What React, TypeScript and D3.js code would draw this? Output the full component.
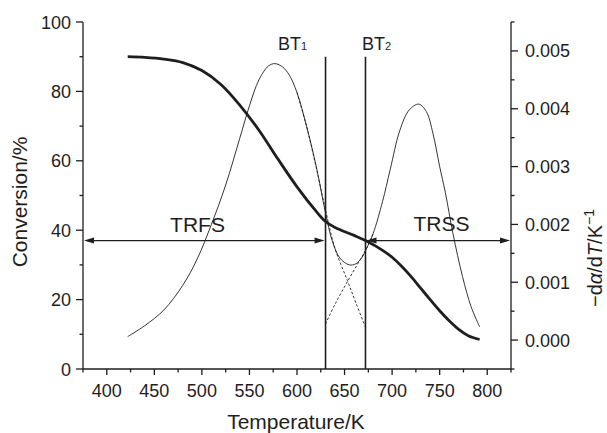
import React from "react";
import * as d3 from "d3";

// ---- data ----
const convTemps = [422, 440, 460, 480, 500, 520, 540, 560, 580, 600, 620, 630, 640, 660, 672, 690, 700, 710, 720, 730, 740, 750, 760, 770, 780, 792];
const convValues = [90, 89.8, 89.3, 88.3, 86, 82, 76, 68.8, 60.5, 52.5, 45.5, 42.5, 40.8, 38.5, 37, 34.2, 32.2, 29.6, 26.6, 23.3, 20.0, 16.8, 13.9, 11.4, 9.6, 8.5];

const dtgTemps = [422, 440, 460, 480, 495, 510, 525, 540, 550, 560, 570, 577, 585, 592, 600, 610, 620, 630, 637, 645, 655, 662, 668, 673, 680, 690, 698, 708, 718, 728, 736, 743, 750, 756, 764, 774, 783, 792];
const dtgValues = [0.00006, 0.00025, 0.00052, 0.00095, 0.0014, 0.002, 0.00268, 0.0035, 0.00405, 0.0045, 0.00474, 0.00478, 0.00472, 0.00458, 0.00428, 0.0037, 0.00302, 0.0022, 0.00172, 0.00142, 0.0013, 0.00132, 0.00142, 0.00158, 0.00184, 0.0024, 0.00295, 0.00362, 0.00398, 0.00408, 0.00395, 0.00357, 0.003, 0.00255, 0.00184, 0.0011, 0.00058, 0.00023];

const peak1Temps = [600, 610, 620, 630, 640, 653, 662, 672];
const peak1Values = [0.00428, 0.0037, 0.003, 0.00225, 0.00158, 0.00103, 0.00064, 0.00022];
const peak2Temps = [630, 640, 653, 665, 673, 680];
const peak2Values = [0.00028, 0.00062, 0.00101, 0.00135, 0.00158, 0.00184];

const xTicks = [400, 450, 500, 550, 600, 650, 700, 750, 800];
const xMinor = [375, 425, 475, 525, 575, 625, 675, 725, 775, 825];
const yLTicks = [0, 20, 40, 60, 80, 100];
const yLMinor = [10, 30, 50, 70, 90];
const yRTicks = [0, 0.001, 0.002, 0.003, 0.004, 0.005];
const yRMinor = [-0.0005, 0.0005, 0.0015, 0.0025, 0.0035, 0.0045, 0.0055];

const bt1 = 630;
const bt2 = 672;
const arrowLevel = 37;
const btTop = 90;

const INK = "#1e1e1e";
const FONT = "'Liberation Sans', Arial, Helvetica, sans-serif";

export default function App() {
  const x = d3.scaleLinear().domain([375, 825]).range([83, 511]);
  const yL = d3.scaleLinear().domain([0, 100]).range([369, 22]);
  const yR = d3.scaleLinear().domain([-0.0005, 0.0055]).range([369, 22]);

  const convLine = d3
    .line<number>()
    .x((_, i) => x(convTemps[i]))
    .y((d) => yL(d))
    .curve(d3.curveCatmullRom.alpha(0.5));
  const mkR = (temps: number[]) =>
    d3
      .line<number>()
      .x((_, i) => x(temps[i]))
      .y((d) => yR(d))
      .curve(d3.curveCatmullRom.alpha(0.5));

  const yA = yL(arrowLevel);
  const head = (tipX: number, dir: number) => {
    const L = 10, W = 3;
    return `M${tipX},${yA} L${tipX - dir * L},${yA - W} L${tipX - dir * L},${yA + W} Z`;
  };

  const x0 = x(375), x1 = x(825);
  const yBottom = yL.range()[0];
  const yTop = yL.range()[1];

  return (
    <svg
      width={607}
      height={433}
      style={{ position: "absolute", left: 0, top: 0, background: "#fff" }}
      fontFamily={FONT}
    >
      <rect width={607} height={433} fill="#fff" />
      {/* axes */}
      <g stroke={INK} strokeWidth={1.3} fill="none">
        <line x1={x0} y1={yTop} x2={x0} y2={yBottom} />
        <line x1={x1} y1={yTop} x2={x1} y2={yBottom} />
        <line x1={x0} y1={yBottom} x2={x1} y2={yBottom} />
        {xTicks.map((t) => (
          <line key={"xt" + t} x1={x(t)} x2={x(t)} y1={yBottom} y2={yBottom + 6} />
        ))}
        {xMinor.map((t) => (
          <line key={"xm" + t} x1={x(t)} x2={x(t)} y1={yBottom} y2={yBottom + 3.5} />
        ))}
        {yLTicks.map((t) => (
          <line key={"lt" + t} x1={x0 - 7} x2={x0} y1={yL(t)} y2={yL(t)} />
        ))}
        {yLMinor.map((t) => (
          <line key={"lm" + t} x1={x0 - 3.5} x2={x0} y1={yL(t)} y2={yL(t)} />
        ))}
        {yRTicks.map((t) => (
          <line key={"rt" + t} x1={x1} x2={x1 + 7} y1={yR(t)} y2={yR(t)} />
        ))}
        {yRMinor.map((t) => (
          <line key={"rm" + t} x1={x1} x2={x1 + 3.5} y1={yR(t)} y2={yR(t)} />
        ))}
      </g>
      {/* tick labels */}
      <g fill={INK} fontSize={18}>
        {xTicks.map((t) => (
          <text key={"xl" + t} x={x(t)} y={397} textAnchor="middle">
            {t}
          </text>
        ))}
        {yLTicks.map((t) => (
          <text key={"ll" + t} x={71} y={yL(t) + 6.5} textAnchor="end">
            {t}
          </text>
        ))}
        {yRTicks.map((t) => (
          <text key={"rl" + t} x={525} y={yR(t) + 6.5} textAnchor="start">
            {d3.format(".3f")(t)}
          </text>
        ))}
      </g>
      {/* axis titles */}
      <text x={296} y={429} fontSize={21} textAnchor="middle" fill={INK}>
        Temperature/K
      </text>
      <text transform="translate(27,202) rotate(-90)" fontSize={21} textAnchor="middle" fill={INK}>
        Conversion/%
      </text>
      <text transform="translate(602,258) rotate(-90)" fontSize={20} textAnchor="middle" fill={INK}>
        −d<tspan fontStyle="italic">α</tspan>/d<tspan fontStyle="italic">T</tspan>/K
        <tspan fontSize={14} dy={-8}>−1</tspan>
      </text>

      {/* fitted peaks (dashed) */}
      <g fill="none" stroke={INK} strokeWidth={0.9} strokeDasharray="2.5,2">
        <path d={mkR(peak1Temps)(peak1Values) || ""} />
        <path d={mkR(peak2Temps)(peak2Values) || ""} />
      </g>
      {/* DTG curve */}
      <path d={mkR(dtgTemps)(dtgValues) || ""} fill="none" stroke={INK} strokeWidth={0.9} />
      {/* conversion curve */}
      <path d={convLine(convValues) || ""} fill="none" stroke={INK} strokeWidth={2.8} />

      {/* BT lines */}
      <g stroke={INK} strokeWidth={1.6}>
        <line x1={x(bt1)} x2={x(bt1)} y1={yL(btTop)} y2={yBottom} />
        <line x1={x(bt2)} x2={x(bt2)} y1={yL(btTop)} y2={yBottom} />
      </g>
      <text x={278} y={50} fontSize={18} fill={INK}>
        BT<tspan fontSize={11}>1</tspan>
      </text>
      <text x={362} y={50} fontSize={18} fill={INK}>
        BT<tspan fontSize={11}>2</tspan>
      </text>

      {/* arrows */}
      <g stroke={INK} strokeWidth={1.3}>
        <line x1={x0 + 4} x2={x(bt1) - 4} y1={yA} y2={yA} />
        <line x1={x(bt2) + 4} x2={x1 - 4} y1={yA} y2={yA} />
      </g>
      <g fill={INK}>
        <path d={head(x0 + 1, -1)} />
        <path d={head(x(bt1) - 1, 1)} />
        <path d={head(x(bt2) + 1, -1)} />
        <path d={head(x1 - 1, 1)} />
      </g>
      <text x={197.5} y={232} fontSize={21} textAnchor="middle" fill={INK}>
        TRFS
      </text>
      <text x={441.5} y={231} fontSize={21} textAnchor="middle" fill={INK}>
        TRSS
      </text>
    </svg>
  );
}
